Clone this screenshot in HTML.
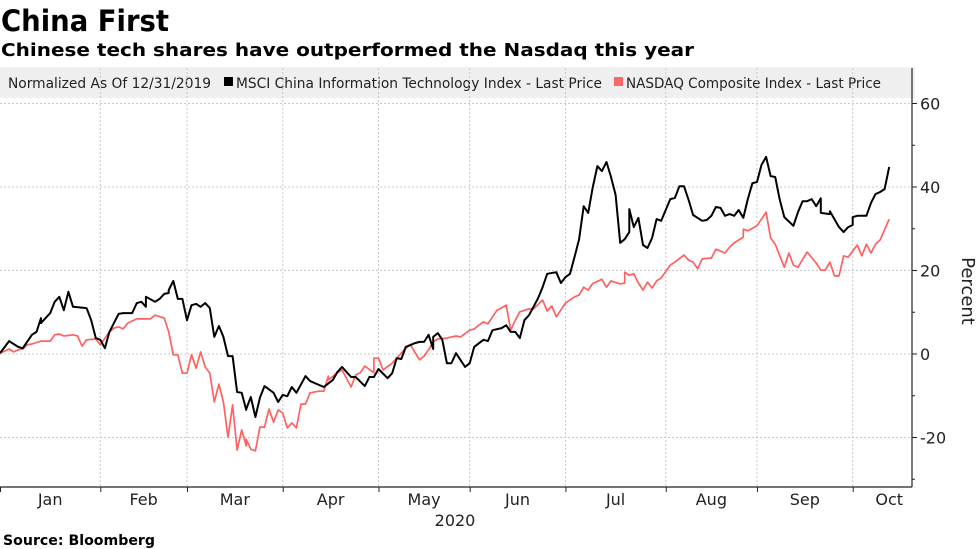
<!DOCTYPE html>
<html><head><meta charset="utf-8"><style>
html,body{margin:0;padding:0;background:#fff;}
svg{display:block;font-family:"DejaVu Sans","Liberation Sans",sans-serif;}
</style></head><body>
<svg id="chart" width="977" height="549" viewBox="0 0 977 549">
<text x="1" y="31" font-size="29" font-weight="bold" fill="#000" textLength="168" lengthAdjust="spacingAndGlyphs">China First</text>
<text x="1" y="56" font-size="18" font-weight="bold" fill="#000" textLength="693" lengthAdjust="spacingAndGlyphs">Chinese tech shares have outperformed the Nasdaq this year</text>
<rect x="0" y="67" width="915" height="31" fill="#efefef"/>
<text x="8" y="88" font-size="14" fill="#222" textLength="203" lengthAdjust="spacingAndGlyphs">Normalized As Of 12/31/2019</text>
<rect x="224" y="77" width="9" height="9" fill="#000"/>
<text x="236" y="88" font-size="14" fill="#222" textLength="366" lengthAdjust="spacingAndGlyphs">MSCI China Information Technology Index - Last Price</text>
<rect x="614" y="77" width="9" height="9" fill="#ff6666"/>
<text x="626" y="88" font-size="14" fill="#222" textLength="255" lengthAdjust="spacingAndGlyphs">NASDAQ Composite Index - Last Price</text>
<g id="grid"></g>
<g id="axes"></g>
<g id="series"></g>
<text x="455" y="526" font-size="16" text-anchor="middle" fill="#222">2020</text>
<text x="962" y="291" font-size="18" text-anchor="middle" fill="#222" transform="rotate(90 962 291)">Percent</text>
<text x="3" y="545" font-size="14" font-weight="bold" fill="#000" textLength="152" lengthAdjust="spacingAndGlyphs">Source: Bloomberg</text>
</svg>
<script>
const monthLabels=["Jan","Feb","Mar","Apr","May","Jun","Jul","Aug","Sep","Oct"];
const monthStartDays=[0,22,41,62,83,103,124,146,166,187,203];
const yTicks=[60,40,20,0,-20];
const yMinorTicks=[50,30,10,-10,-30];
const msciDays=[0,2,4,5,7,8,9,9,11,12,13,14,15,16,19,20,21,22,23,24,26,27,29,30,31,32,32,34,35,36,37,37,38,39,40,41,42,43,44,45,46,47,48,49,50,51,52,53,54,54,55,56,57,58,60,61,62,63,64,65,67,68,71,73,74,75,77,78,80,81,82,83,85,86,87,88,89,91,92,93,94,95,95,96,97,98,99,100,102,103,104,106,107,108,110,111,112,113,114,115,116,117,118,119,120,122,123,124,125,126,127,128,129,130,131,132,133,134,135,136,137,138,138,139,140,141,142,143,144,145,147,148,149,150,151,152,154,155,156,157,158,159,160,161,162,163,164,165,166,167,168,169,170,171,172,174,175,176,177,178,179,180,180,182,182,184,185,186,187,187,188,190,191,192,193,194,195];
const msciValues=[0.2,3.1,1.7,1.4,4.6,5.3,8.6,7.4,9.8,12.5,13.7,10.5,14.9,11.3,11.0,8.1,3.8,3.4,1.4,5.3,9.6,9.8,9.8,12.2,12.5,11.3,13.7,12.5,13.2,14.4,14.6,15.3,17.5,13.2,13.2,8.1,11.7,12.0,11.3,12.2,11.0,4.1,6.7,4.1,-0.5,-0.5,-9.1,-9.3,-13.4,-13.2,-10.3,-15.1,-10.5,-7.7,-9.3,-11.5,-9.8,-10.1,-7.9,-9.3,-5.3,-6.5,-7.9,-6.2,-4.3,-3.1,-5.5,-5.5,-7.7,-5.5,-5.5,-3.6,-5.8,-4.6,-1.0,-1.2,1.7,2.6,2.9,2.9,4.6,1.2,4.1,5.0,3.4,-2.2,-2.2,0.2,-3.1,-2.2,1.7,3.4,3.1,5.7,6.2,6.9,5.3,5.3,3.8,8.1,9.3,11.3,13.4,16.0,19.2,19.6,17.0,18.4,19.2,23.3,27.5,35.4,33.8,40.0,45.0,43.8,46.0,42.4,38.1,26.6,27.5,29.2,34.7,30.4,32.6,26.1,25.4,27.8,32.3,31.9,37.1,37.4,40.2,40.2,36.9,33.3,31.9,32.1,33.1,35.2,35.0,33.1,33.5,33.1,34.5,32.6,37.1,40.9,41.2,45.3,47.2,42.6,42.4,36.9,32.8,30.7,34.0,36.6,36.6,37.1,35.4,37.3,33.8,33.5,34.2,30.4,29.2,30.4,30.9,32.8,33.1,33.1,36.2,38.3,38.8,39.5,44.8];
const nasdaqDays=[0,2,3,4,5,6,7,9,11,12,13,14,16,17,18,19,21,22,24,25,26,27,28,30,31,33,34,36,37,38,39,40,41,42,43,44,45,46,47,48,49,50,51,52,53,54,54,55,56,57,58,59,60,61,62,63,64,65,66,67,68,70,71,72,72,74,75,77,78,79,80,82,82,83,84,86,87,89,90,92,93,94,95,96,98,100,101,103,104,105,106,107,109,111,112,113,114,116,117,119,120,121,122,124,126,127,128,129,130,132,133,134,136,137,137,138,139,140,141,142,143,144,145,147,148,150,151,152,153,154,156,157,159,160,161,163,163,164,166,168,169,170,172,173,174,175,177,179,180,181,182,183,184,185,186,188,189,190,191,192,193,195];
const nasdaqValues=[0.2,1.2,0.5,1.0,1.2,2.2,2.4,3.1,3.1,4.6,4.8,4.3,4.6,4.3,1.9,3.4,3.6,2.2,5.3,6.2,6.5,6.0,7.4,8.4,8.4,8.4,9.3,8.6,5.3,-0.2,-0.2,-4.6,-4.6,-0.2,-3.4,0.5,-3.1,-4.6,-11.5,-7.2,-11.5,-19.9,-12.2,-23.0,-18.2,-22.0,-20.4,-22.8,-23.2,-17.5,-17.5,-13.2,-16.3,-13.4,-14.1,-17.7,-16.5,-17.7,-12.0,-12.0,-9.3,-8.9,-8.9,-5.3,-6.2,-4.5,-3.8,-7.9,-5.0,-4.5,-2.9,-4.5,-1.0,-1.0,-3.8,-2.2,-1.0,1.4,2.2,-1.4,-0.5,1.0,2.9,3.6,3.8,4.3,4.1,5.7,6.0,6.9,7.7,7.2,10.5,11.7,5.7,8.1,10.1,10.8,10.8,12.9,10.3,11.5,8.9,12.2,13.7,14.1,16.0,15.3,16.9,17.9,16.0,17.5,16.8,17.0,19.6,18.9,19.2,17.0,15.3,17.2,15.8,17.5,18.2,21.3,22.0,23.7,22.5,22.0,20.4,22.8,23.0,25.1,24.2,25.6,26.6,28.0,29.9,29.5,30.7,34.0,27.8,26.3,20.8,24.2,21.3,20.8,24.4,21.8,20.1,20.1,22.0,18.7,18.7,23.5,23.2,26.1,23.5,26.3,24.2,26.3,27.3,32.3];

const NS="http://www.w3.org/2000/svg";
const plotL=0,plotR=912,plotT=68,plotB=487;
function xScale(d){return plotL+d*4.56;}
function yScale(v){return 354-v*4.175;}
function mk(tag,attrs,parent){const e=document.createElementNS(NS,tag);for(const k in attrs)e.setAttribute(k,attrs[k]);parent.appendChild(e);return e;}
const grid=document.getElementById('grid'),axes=document.getElementById('axes'),series=document.getElementById('series');

yTicks.forEach(function(t){
  const g=mk('line',{x1:plotL,x2:plotR,y1:yScale(t),y2:yScale(t),stroke:'#c8c8c8','stroke-width':1,'stroke-dasharray':'2,2'},grid);
  
  
  const tk=mk('line',{x1:plotR,x2:plotR+5,y1:yScale(t),y2:yScale(t),stroke:'#222','stroke-width':1},axes);
  
  
  const lb=mk('text',{x:plotR+8,y:yScale(t)+6,'font-size':16,fill:'#222'},axes);
  lb.textContent=t;
  
  
});
yMinorTicks.forEach(function(t){
  const tk=mk('line',{x1:plotR,x2:plotR+3,y1:yScale(t),y2:yScale(t),stroke:'#222','stroke-width':1},axes);
  
  
});
monthLabels.forEach(function(m,i){
  const d=monthStartDays[i];
  if(i>0){
    const g=mk('line',{x1:xScale(d),x2:xScale(d),y1:plotT,y2:plotB,stroke:'#c8c8c8','stroke-width':1,'stroke-dasharray':'2,2'},grid);
    
    
  }
  const tk=mk('line',{x1:xScale(d)+0.5,x2:xScale(d)+0.5,y1:plotB,y2:plotB+5,stroke:'#222','stroke-width':1},axes);
  
  
  const lb=mk('text',{x:xScale((d+monthStartDays[i+1])/2),y:505,'font-size':16,'text-anchor':'middle',fill:'#222'},axes);
  lb.textContent=m;
  
  
});
const xa=mk('line',{x1:plotL,x2:plotR,y1:plotB,y2:plotB,stroke:'#222','stroke-width':1.2},axes);


const ya=mk('line',{x1:plotR,x2:plotR,y1:plotT,y2:plotB,stroke:'#222','stroke-width':1.2},axes);



function pts(days,vals){return days.map(function(d,i){return xScale(d).toFixed(1)+','+yScale(vals[i]).toFixed(1);}).join(' ');}
const rl=mk('polyline',{points:pts(nasdaqDays,nasdaqValues),fill:'none',stroke:'#ff6161','stroke-width':1.7,'stroke-linejoin':'round'},series);


const bl=mk('polyline',{points:pts(msciDays,msciValues),fill:'none',stroke:'#000','stroke-width':2,'stroke-linejoin':'round'},series);


</script>
</body></html>
